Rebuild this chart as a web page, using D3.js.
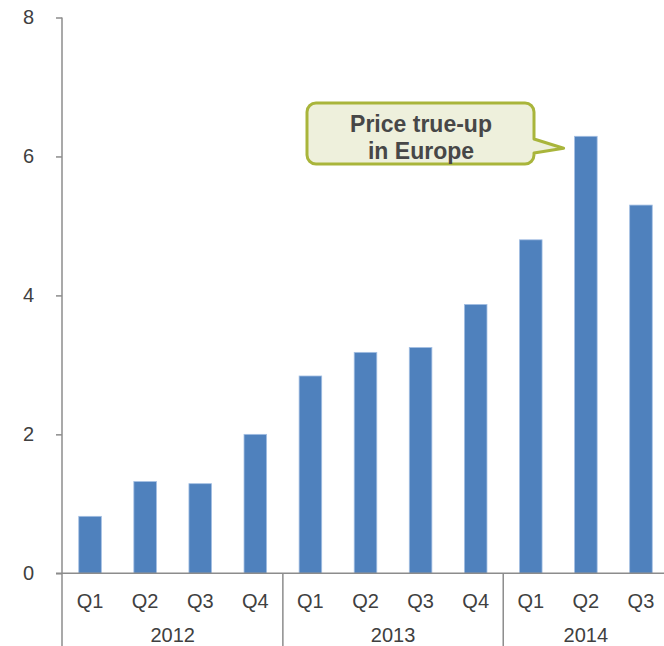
<!DOCTYPE html>
<html>
<head>
<meta charset="utf-8">
<script src="https://cdn.jsdelivr.net/npm/d3@7"></script>
<style>
  html, body { margin: 0; padding: 0; background: #fff; }
  svg { display: block; }
  text { font-family: "Liberation Sans", Arial, sans-serif; }
</style>
</head>
<body>
<svg id="chart" width="664" height="646"></svg>
<script>
// Quarterly values grouped by year
const years = ["2012", "2013", "2014"];
const quarters = [
  ["Q1", "Q2", "Q3", "Q4"],
  ["Q1", "Q2", "Q3", "Q4"],
  ["Q1", "Q2", "Q3"]
];
const values = [0.82, 1.32, 1.29, 2.0, 2.84, 3.18, 3.25, 3.87, 4.8, 6.29, 5.3];
const yTicks = [0, 2, 4, 6, 8];
const calloutLines = ["Price true-up", "in Europe"];
const calloutIndex = 9; // bar the callout points at

const svg = d3.select("#chart");
const axisColor = "#8c8c8c";
const textColor = "#404040";

// Flatten categories into one band per quarter
const cats = [];
quarters.forEach((qs, yi) => qs.forEach(q => cats.push({ year: years[yi], q, key: years[yi] + q })));

const x = d3.scaleBand()
  .domain(cats.map(c => c.key))
  .range([62.5, 668.5])
  .paddingInner(0.59)
  .paddingOuter(0.295);

const y = d3.scaleLinear().domain([0, 8]).range([573.3, 17.5]);

// Bars
svg.append("g").selectAll("rect")
  .data(values)
  .join("rect")
  .attr("x", (d, i) => x(cats[i].key))
  .attr("width", x.bandwidth())
  .attr("y", d => y(d))
  .attr("height", d => y(0) - y(d))
  .attr("fill", "#4f81bd")
  .attr("stroke", "#a3bfe3")
  .attr("stroke-width", 0.8);

// Y axis
const yAxis = svg.append("g").attr("transform", "translate(62,0)")
  .call(d3.axisLeft(y).tickValues(yTicks).tickSize(6).tickPadding(22).tickFormat(d3.format("d")));
yAxis.select(".domain").remove();
yAxis.selectAll(".tick line").attr("stroke", axisColor).attr("stroke-width", 1.5);
yAxis.selectAll(".tick text")
  .attr("fill", textColor)
  .attr("font-size", 20)
  .attr("font-family", "Liberation Sans, Arial, sans-serif");

// Vertical axis line continuing into the category area
svg.append("line")
  .attr("x1", 62).attr("x2", 62)
  .attr("y1", y(8)).attr("y2", 646)
  .attr("stroke", axisColor).attr("stroke-width", 1.5);

// Baseline
svg.append("line")
  .attr("x1", 56).attr("x2", 664)
  .attr("y1", y(0)).attr("y2", y(0))
  .attr("stroke", axisColor).attr("stroke-width", 1.5);

// Quarter labels
svg.append("g").selectAll("text")
  .data(cats)
  .join("text")
  .attr("x", d => x(d.key) + x.bandwidth() / 2)
  .attr("y", 607.5)
  .attr("text-anchor", "middle")
  .attr("font-size", 20)
  .attr("fill", textColor)
  .text(d => d.q);

// Year groups: separators and labels
const step = x.step();
let start = 0;
years.forEach((yr, yi) => {
  const n = quarters[yi].length;
  const x0 = x(cats[start].key) - x.paddingInner() * step / 2;
  const x1 = x0 + n * step;
  if (yi > 0) {
    svg.append("line")
      .attr("x1", x0).attr("x2", x0)
      .attr("y1", y(0)).attr("y2", 646)
      .attr("stroke", axisColor).attr("stroke-width", 1.5);
  }
  svg.append("text")
    .attr("x", (x0 + x1) / 2)
    .attr("y", 641.5)
    .attr("text-anchor", "middle")
    .attr("font-size", 20)
    .attr("fill", textColor)
    .text(yr);
  start += n;
});

// Callout bubble pointing at the 2014 Q2 bar
const bx0 = 307, by0 = 103, bx1 = 534, by1 = 164, r = 9;
const tipX = x(cats[calloutIndex].key) - 11;
const tipY = y(values[calloutIndex]) + 12;
const p = d3.path();
p.moveTo(bx0 + r, by0);
p.lineTo(bx1 - r, by0);
p.arcTo(bx1, by0, bx1, by0 + r, r);
p.lineTo(bx1, 139);
p.lineTo(tipX, tipY);
p.lineTo(bx1, 153);
p.lineTo(bx1, by1 - r);
p.arcTo(bx1, by1, bx1 - r, by1, r);
p.lineTo(bx0 + r, by1);
p.arcTo(bx0, by1, bx0, by1 - r, r);
p.lineTo(bx0, by0 + r);
p.arcTo(bx0, by0, bx0 + r, by0, r);
p.closePath();
svg.append("path")
  .attr("d", p.toString())
  .attr("fill", "#eef0dc")
  .attr("stroke", "#a9b53b")
  .attr("stroke-width", 3)
  .attr("stroke-linejoin", "round");

svg.append("g").selectAll("text")
  .data(calloutLines)
  .join("text")
  .attr("x", 421)
  .attr("y", (d, i) => 131.5 + i * 27)
  .attr("text-anchor", "middle")
  .attr("font-size", 23)
  .attr("font-weight", "bold")
  .attr("fill", "#474747")
  .text(d => d);
</script>
</body>
</html>
